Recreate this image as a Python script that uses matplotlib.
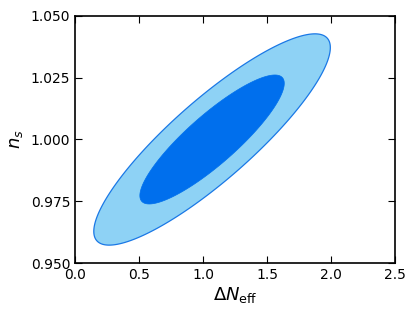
import numpy as np
import matplotlib
matplotlib.use('Agg')
import matplotlib.pyplot as plt
from matplotlib.ticker import FormatStrFormatter

# 2D Gaussian posterior for (Delta N_eff, n_s)
mean = [1.07, 1.000]
sigma = [0.372, 0.0172]
rho = 0.87
chi2_levels = [2.30, 6.17]   # 68% and 95%
xticks = [0.0, 0.5, 1.0, 1.5, 2.0, 2.5]
yticks = [0.950, 0.975, 1.000, 1.025, 1.050]

x = np.linspace(0.0, 2.2, 1500)
y = np.linspace(0.95, 1.05, 1500)
X, Y = np.meshgrid(x, y)
dx = (X - mean[0]) / sigma[0]
dy = (Y - mean[1]) / sigma[1]
chi2 = (dx**2 - 2*rho*dx*dy + dy**2) / (1 - rho**2)

fig = plt.figure(figsize=(4.15, 3.17), dpi=100)
ax = fig.add_axes([0.181, 0.170, 0.771, 0.780])
ax.contourf(X, Y, chi2, levels=[0, chi2_levels[1]], colors=['#8ed2f5'], antialiased=True)
ax.contourf(X, Y, chi2, levels=[0, chi2_levels[0]], colors=['#006fed'], antialiased=True)
ax.contour(X, Y, chi2, levels=[chi2_levels[1]], colors=['#1a78e6'], linewidths=0.9)
ax.contour(X, Y, chi2, levels=[chi2_levels[0]], colors=['#006fed'], linewidths=0.5)

ax.set_xlim(0, 2.5)
ax.set_ylim(0.95, 1.05)
ax.set_xticks(xticks)
ax.set_yticks(yticks)
ax.xaxis.set_major_formatter(FormatStrFormatter('%.1f'))
ax.yaxis.set_major_formatter(FormatStrFormatter('%.3f'))
ax.tick_params(direction='in', top=True, right=True, length=5, width=0.8, labelsize=10)
for s in ax.spines.values():
    s.set_linewidth(1.2)
ax.set_xlabel(r'$\Delta N_{\rm eff}$', fontsize=13, labelpad=2)
ax.set_ylabel(r'$n_s$', fontsize=13, labelpad=4)

plt.savefig('out.png', dpi=100)
